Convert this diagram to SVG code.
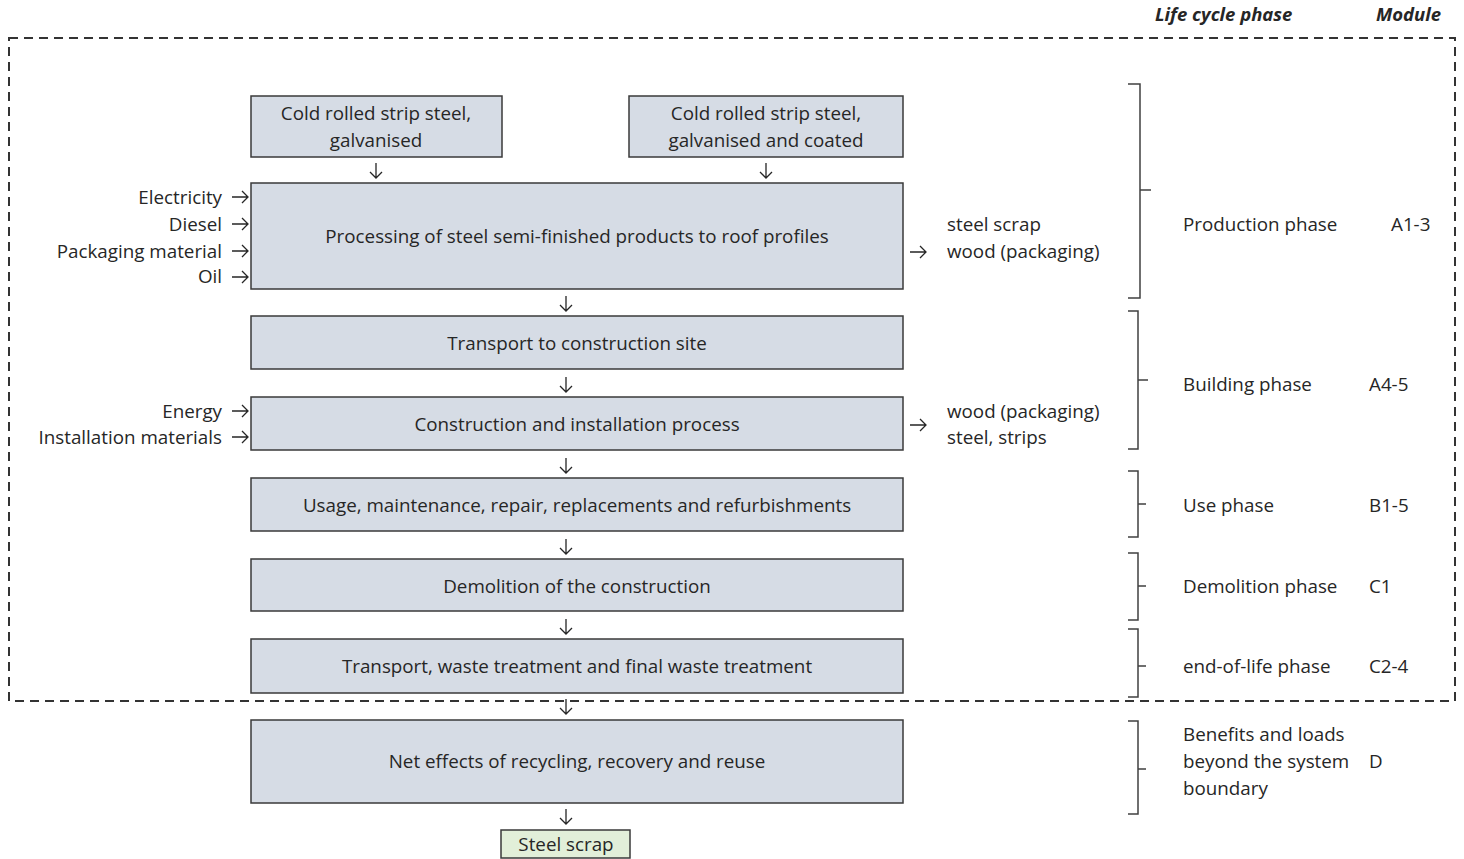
<svg xmlns="http://www.w3.org/2000/svg" width="1464" height="859" viewBox="0 0 1464 859">
<style>
text{font-family:"Open Sans","Liberation Sans",sans-serif;font-size:18.8px;fill:#262626}
.c{text-anchor:middle}
.r{text-anchor:end}
.h{font-weight:bold;font-style:italic;font-size:18.5px}
.box{fill:#d6dce5;stroke:#3a3a3a;stroke-width:1.5}
.grn{fill:#e2efd9;stroke:#3a3a3a;stroke-width:1.5}
.ar{fill:none;stroke:#262626;stroke-width:1.3}
.br{fill:none;stroke:#404040;stroke-width:1.5}
.dash{fill:none;stroke:#333;stroke-width:2;stroke-dasharray:9,6}
</style>
<rect class="dash" x="9" y="38" width="1446" height="663"/>
<text class="h" x="1155" y="21">Life cycle phase</text>
<text class="h" x="1376" y="21">Module</text>

<g id="n_galv"><rect class="box" x="251" y="96" width="251" height="61"/><text class="c" x="376" y="119.5">Cold rolled strip steel,</text><text class="c" x="376" y="146.5">galvanised</text></g>
<g id="n_coat"><rect class="box" x="629" y="96" width="274" height="61"/><text class="c" x="766" y="119.5">Cold rolled strip steel,</text><text class="c" x="766" y="146.5">galvanised and coated</text></g>
<g id="n_proc"><rect class="box" x="251" y="183" width="652" height="106"/><text class="c" x="577" y="242.5">Processing of steel semi-finished products to roof profiles</text></g>
<g id="n_trans"><rect class="box" x="251" y="316" width="652" height="53"/><text class="c" x="577" y="349.5">Transport to construction site</text></g>
<g id="n_constr"><rect class="box" x="251" y="397" width="652" height="53"/><text class="c" x="577" y="430.5">Construction and installation process</text></g>
<g id="n_use"><rect class="box" x="251" y="478" width="652" height="53"/><text class="c" x="577" y="511.5">Usage, maintenance, repair, replacements and refurbishments</text></g>
<g id="n_demo"><rect class="box" x="251" y="559" width="652" height="52"/><text class="c" x="577" y="592.5">Demolition of the construction</text></g>
<g id="n_waste"><rect class="box" x="251" y="639" width="652" height="54"/><text class="c" x="577" y="672.5">Transport, waste treatment and final waste treatment</text></g>
<g id="n_net"><rect class="box" x="251" y="720" width="652" height="83"/><text class="c" x="577" y="767.5">Net effects of recycling, recovery and reuse</text></g>
<g id="n_scrap"><rect class="grn" x="501" y="830" width="129" height="28"/><text class="c" x="566" y="851">Steel scrap</text></g>

<g id="inputs">
<text class="r" x="222" y="203.5">Electricity</text>
<text class="r" x="222" y="230.5">Diesel</text>
<text class="r" x="222" y="257.5">Packaging material</text>
<text class="r" x="222" y="282.5">Oil</text>
<text class="r" x="222" y="417.5">Energy</text>
<text class="r" x="222" y="443.5">Installation materials</text>
</g>
<g id="outputs">
<text x="947" y="230.5">steel scrap</text>
<text x="947" y="257.5">wood (packaging)</text>
<text x="947" y="417.5">wood (packaging)</text>
<text x="947" y="443.5">steel, strips</text>
</g>

<g id="connectors">
<path class="ar" d="M376 163V178M370 172L376 178L382 172"/>
<path class="ar" d="M766 163V178M760 172L766 178L772 172"/>
<path class="ar" d="M566 296V311M560 305L566 311L572 305"/>
<path class="ar" d="M566 377V392M560 386L566 392L572 386"/>
<path class="ar" d="M566 458V473M560 467L566 473L572 467"/>
<path class="ar" d="M566 539V554M560 548L566 554L572 548"/>
<path class="ar" d="M566 619V634M560 628L566 634L572 628"/>
<path class="ar" d="M566 699V714M560 708L566 714L572 708"/>
<path class="ar" d="M566 809V824M560 818L566 824L572 818"/>
<path class="ar" d="M232 197H248M242 191L248 197L242 203"/>
<path class="ar" d="M232 224H248M242 218L248 224L242 230"/>
<path class="ar" d="M232 251H248M242 245L248 251L242 257"/>
<path class="ar" d="M232 277H248M242 271L248 277L242 283"/>
<path class="ar" d="M232 411H248M242 405L248 411L242 417"/>
<path class="ar" d="M232 437H248M242 431L248 437L242 443"/>
<path class="ar" d="M910 252H926M920 246L926 252L920 258"/>
<path class="ar" d="M910 425H926M920 419L926 425L920 431"/>
</g>

<g id="braces">
<path class="br" d="M1128 84H1140V298H1128M1140 190H1151"/>
<path class="br" d="M1128 311H1138V449H1128M1138 380H1148"/>
<path class="br" d="M1128 471H1138V537H1128M1138 504H1146"/>
<path class="br" d="M1128 553H1138V620H1128M1138 586H1146"/>
<path class="br" d="M1128 629H1138V697H1128M1138 666H1146"/>
<path class="br" d="M1128 721H1138V814H1128M1138 769H1146"/>
</g>

<g id="phases">
<text x="1183" y="230.5">Production phase</text><text x="1391" y="230.5">A1-3</text>
<text x="1183" y="390.5">Building phase</text><text x="1369" y="390.5">A4-5</text>
<text x="1183" y="511.5">Use phase</text><text x="1369" y="511.5">B1-5</text>
<text x="1183" y="592.5">Demolition phase</text><text x="1369" y="592.5">C1</text>
<text x="1183" y="672.5">end-of-life phase</text><text x="1369" y="672.5">C2-4</text>
<text x="1183" y="740.5">Benefits and loads</text>
<text x="1183" y="767.5">beyond the system</text><text x="1369" y="767.5">D</text>
<text x="1183" y="794.5">boundary</text>
</g>
</svg>
